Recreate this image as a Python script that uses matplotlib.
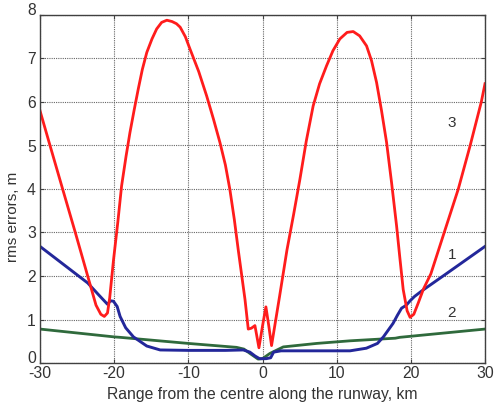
import matplotlib
matplotlib.use("Agg")
import matplotlib.pyplot as plt
import matplotlib.transforms as mtransforms

# curve 3 (red)
x3 = [-30, -28.65, -26.95, -25.24, -23.57, -22.45, -21.8, -21.33, -20.9, -20.6,
      -20.1, -19.5, -19.0, -18.4, -17.87, -17.3, -16.75, -16.2, -15.6, -14.9,
      -14.27, -13.6, -12.9, -12.2, -11.6, -11.1, -10.4, -9.78, -8.6, -7.53,
      -6.6, -5.74, -5.0, -4.4, -3.8, -3.27, -2.36, -1.92, -1.5, -1.02, -0.48,
      0.0, 0.46, 0.85, 1.22, 2.3, 3.3, 4.2, 5.04, 5.9, 6.83, 7.7, 8.63, 9.5,
      10.43, 11.4, 12.23, 13.1, 14.03, 14.7, 15.38, 16.05, 16.73, 17.4, 18.08,
      18.5, 18.97, 19.5, 19.9, 20.4, 21.0, 21.7, 22.7, 24.5, 26.4, 28.0, 29.5, 30]
y3 = [5.8, 5.0, 4.0, 3.0, 2.0, 1.33, 1.12, 1.07, 1.15, 1.5,
      2.35, 3.25, 4.07, 4.75, 5.3, 5.82, 6.3, 6.75, 7.14, 7.45,
      7.68, 7.83, 7.88, 7.85, 7.8, 7.72, 7.5, 7.22, 6.7, 6.14,
      5.6, 5.07, 4.55, 3.99, 3.3, 2.6, 1.46, 0.78, 0.8, 0.86, 0.35,
      0.85, 1.29, 0.85, 0.4, 1.53, 2.6, 3.42, 4.22, 5.1, 5.91, 6.42, 6.83, 7.18,
      7.45, 7.6, 7.62, 7.52, 7.29, 6.95, 6.45, 5.8, 5.07, 4.15, 3.15,
      2.45, 1.69, 1.2, 1.05, 1.12, 1.38, 1.7, 2.05, 3.0, 4.0, 5.0, 6.0, 6.42]

# curve 1 (blue)
x1 = [-30, -23.57, -22.0, -20.9, -20.5, -20.1, -19.6, -19.2, -18.45, -17.4,
      -15.6, -13.8, -10, -5, -2.6, -1.7, -1.0, -0.4, 0.5, 1.1, 1.5, 2.5, 5,
      11.8, 14.0, 15.5, 16.3, 17.6, 18.2, 18.75, 19.4, 19.9, 20.5, 21.5, 24.6, 30]
y1 = [2.68, 1.84, 1.55, 1.35, 1.43, 1.42, 1.3, 1.07, 0.81, 0.6,
      0.39, 0.3, 0.29, 0.29, 0.3, 0.25, 0.16, 0.1, 0.1, 0.12, 0.25, 0.28, 0.28,
      0.28, 0.34, 0.45, 0.6, 0.91, 1.1, 1.26, 1.33, 1.43, 1.53, 1.66, 2.03, 2.68]

# curve 2 (green)
x2 = [-30, -20, -19.2, -10, -3.5, -2.5, -1.7, -0.6, 0.0, 1.0, 2.8, 7.3, 11.8,
      17.9, 18.5, 30]
y2 = [0.78, 0.6, 0.59, 0.45, 0.36, 0.32, 0.22, 0.09, 0.1, 0.22, 0.37, 0.45, 0.51,
      0.57, 0.59, 0.78]

curve_labels = ["1", "2", "3"]
label_x = [25.5, 25.5, 25.5]
label_y = [2.48, 1.16, 5.52]

xticks = [-30, -20, -10, 0, 10, 20, 30]
yticks = [0, 1, 2, 3, 4, 5, 6, 7, 8]

plt.rcParams.update({
    "font.family": ["Liberation Sans", "DejaVu Sans"],
    "font.size": 11,
    "axes.unicode_minus": False,
    "text.color": "#333333",
    "axes.labelcolor": "#333333",
    "xtick.color": "#404040",
    "ytick.color": "#404040",
})

fig = plt.figure(figsize=(4.94, 4.03), dpi=100)
ax = fig.add_axes([40 / 494, 40 / 403, 445 / 494, 348 / 403])

ax.plot(x2, y2, color="#2f6a3c", linewidth=2.0, solid_joinstyle="round")
ax.plot(x1, y1, color="#23279a", linewidth=2.1, solid_joinstyle="round")
ax.plot(x3, y3, color="#ff1c1c", linewidth=2.0, solid_joinstyle="round")

for t, lx, ly in zip(curve_labels, label_x, label_y):
    ax.text(lx, ly, t, ha="center", va="center", fontsize=11, color="#333333")

ax.set_xlim(-30, 30)
ax.set_ylim(0, 8)
ax.set_xticks(xticks)
ax.set_yticks(yticks)
ax.tick_params(direction="in", top=True, right=True, length=3, width=0.8,
               labelsize=11.3, labelcolor="#333333")
ax.tick_params(axis="x", pad=2)
ax.tick_params(axis="y", pad=3)
ax.grid(True, linestyle=(0, (1, 1)), color="0.4", linewidth=0.8)
for s in ax.spines.values():
    s.set_color("#404040")
    s.set_linewidth(1.0)

# the end labels of the y axis sit a little higher, as in the original
shift = mtransforms.ScaledTranslation(0, 4 / 72, fig.dpi_scale_trans)
ylabels = ax.get_yticklabels()
for lab in (ylabels[0], ylabels[-1]):
    lab.set_transform(lab.get_transform() + shift)

ax.set_xlabel("Range from the centre along the runway, km", fontsize=11.3)
ax.xaxis.set_label_coords(0.5, -0.068)
ax.xaxis.label.set_va("top")
ax.set_ylabel("rms errors, m", fontsize=11)
ax.yaxis.set_label_coords(-0.045, 0.42)

fig.savefig("out.png", dpi=100)
